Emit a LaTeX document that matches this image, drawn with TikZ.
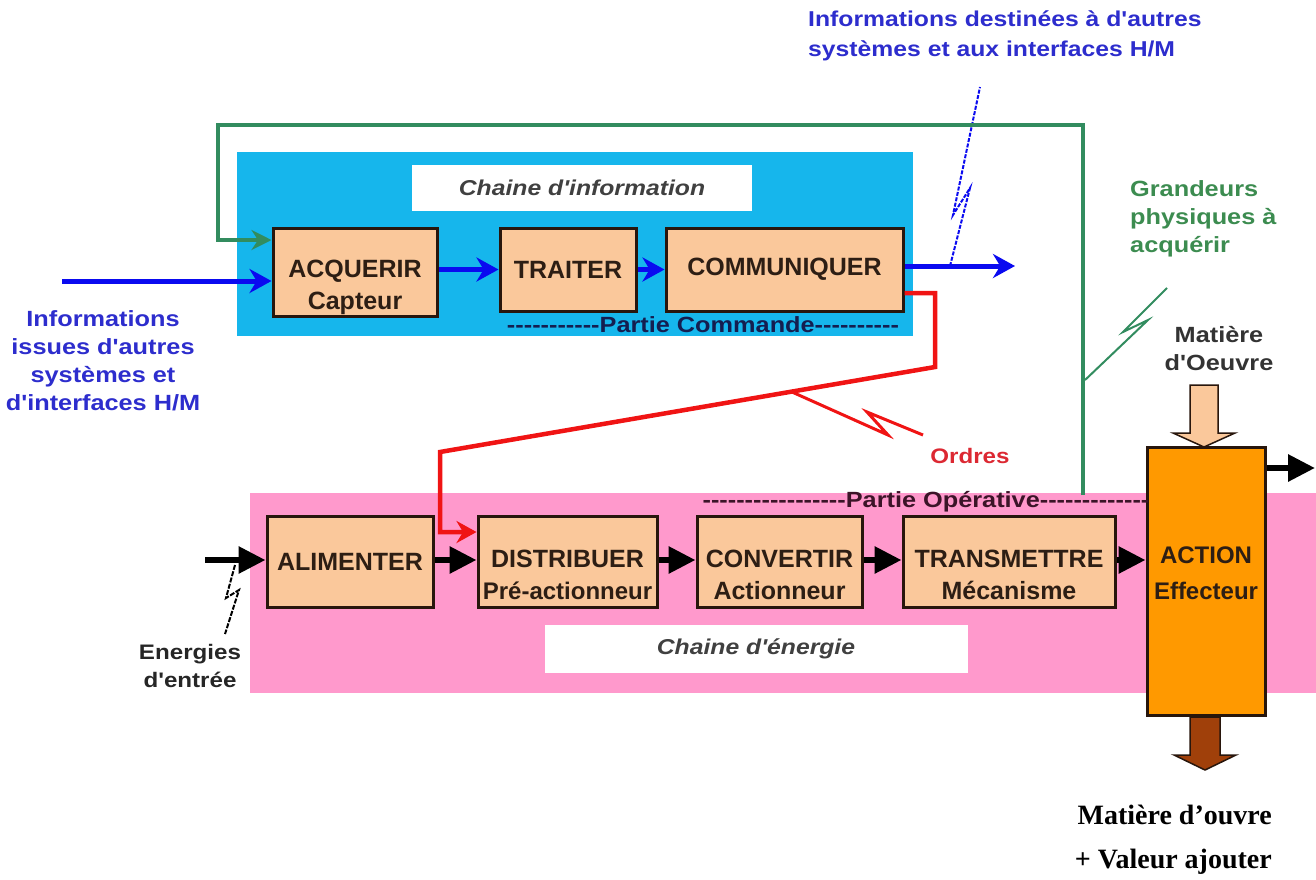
\documentclass[tikz,border=0pt]{standalone}
\usepackage{fontspec}
\setmainfont{Liberation Sans}
\newfontfamily\widesans{Liberation Sans}[FakeStretch=1.15]
\newfontfamily\timesfont{Liberation Serif}
\usetikzlibrary{arrows.meta}
\definecolor{cyanbg}{RGB}{22,182,236}
\definecolor{pinkbg}{RGB}{255,153,204}
\definecolor{peach}{RGB}{250,200,155}
\definecolor{orangebox}{RGB}{255,153,0}
\definecolor{brownar}{RGB}{160,64,10}
\definecolor{boxline}{RGB}{40,22,12}
\definecolor{blueline}{RGB}{10,10,240}
\definecolor{bluetxt}{RGB}{45,45,205}
\definecolor{greenline}{RGB}{50,140,95}
\definecolor{greentxt}{RGB}{60,140,80}
\definecolor{redline}{RGB}{240,20,20}
\definecolor{redtxt}{RGB}{220,40,50}
\definecolor{navytxt}{RGB}{20,30,80}
\definecolor{maroontxt}{RGB}{60,20,40}
\definecolor{darktxt}{RGB}{45,30,20}
\newcommand{\twolines}[3]{\rule{0pt}{#3}#1\\#2}
\newcommand{\dashes}[1]{\ifnum#1>0 -\kern0pt\expandafter\dashes\expandafter{\the\numexpr#1-1\relax}\fi}
\begin{document}
\begin{tikzpicture}[x=1pt,y=-1pt,
  box/.style={draw=boxline,line width=3pt,fill=peach,align=center,inner sep=0pt,
    text=darktxt,font=\bfseries\fontsize{25}{32}\selectfont},
  lbl/.style={fill=white,inner sep=0pt,font=\widesans\bfseries\itshape\fontsize{21.5}{24}\selectfont,text=black!75},
  bluearrow/.style={draw=blueline,line width=5pt,-{Stealth[length=22pt,width=24pt]}},
  blackarrow/.style={draw=black,line width=6pt,-{Triangle[length=27pt,width=26pt]}},
  bolt/.style={line width=2pt},
  txt/.style={font=\widesans\bfseries\fontsize{22}{28}\selectfont,inner sep=0pt}]
\useasboundingbox (0,0) rectangle (1316,879);

% backgrounds
\fill[cyanbg] (237,152) rectangle (913,336);
\fill[pinkbg] (250,493) rectangle (1316,693);
\node[lbl,minimum width=340pt,minimum height=46pt] (lblinfo) at (582,188) {Chaine d'information};
\node[lbl,minimum width=423pt,minimum height=48pt] (lblener) at (756,649) {Chaine d'énergie};

% information chain
\node[box,minimum width=164pt,minimum height=88pt] (acq) at (355,272) {\twolines{ACQUERIR}{Capteur}{48pt}};
\node[box,minimum width=136pt,minimum height=83pt] (trait) at (568,269.5) {TRAITER};
\node[box,minimum width=237pt,minimum height=83pt] (comm) at (784.5,269.5) {COMMUNIQUER};
\node[txt,text=navytxt] (pcom) at (703,325) {\dashes{11}Partie Commande\dashes{10}};

% energy chain
\node[box,minimum width=166pt,minimum height=91pt] (alim) at (350,561.5) {ALIMENTER};
\node[box,minimum width=179pt,minimum height=91pt] (dist) at (567.5,561.5) {\twolines{DISTRIBUER}{\fontsize{24}{32}\selectfont Pré-actionneur}{45pt}};
\node[box,minimum width=165pt,minimum height=91pt] (conv) at (779.5,561.5) {\twolines{CONVERTIR}{Actionneur}{45pt}};
\node[box,minimum width=212pt,minimum height=91pt] (trans) at (1009,561.5) {\twolines{TRANSMETTRE}{Mécanisme}{45pt}};
\node[box,fill=orangebox,minimum width=118pt,minimum height=268pt,font=\bfseries\fontsize{24}{36}\selectfont] (action) at (1206,581) {ACTION\\Effecteur\rule[-16pt]{0pt}{0pt}};
\node[txt,text=maroontxt] (pop) at (926,502) {\dashes{17}Partie Opérative\dashes{13}};

% blue arrows
\coordinate (bin) at (62,281);
\coordinate (bout) at (1015,266);
\draw[bluearrow] (bin) -- (acq.west |- bin);
\draw[bluearrow] (acq.east |- trait) -- (trait.west);
\draw[bluearrow] (trait.east) -- (comm.west);
\draw[bluearrow] (comm.east |- bout) -- (bout);

% blue dashed lightning
\draw[blueline,bolt,dash pattern=on 4pt off 1.5pt] (950,266) -- (970,188) -- (953,215) -- (980,87);

% green loop
\coordinate (g0) at (1083,495);
\coordinate (g1) at (1083,125);
\coordinate (g2) at (218,125);
\coordinate (g3) at (218,240);
\draw[greenline,line width=4pt,-{Stealth[length=20pt,width=20pt]}] (g0) -- (g1) -- (g2) -- (g3) -- (acq.west |- g3);
\draw[greenline,bolt] (1085,380) -- (1148,320) -- (1123,332) -- (1167,288);

% red orders
\coordinate (r1) at (935,293);
\coordinate (r2) at (935,367);
\coordinate (r3) at (440,452);
\coordinate (r4) at (440,532);
\draw[redline,line width=4.5pt,line join=miter,-{Stealth[length=20pt,width=22pt]}] (comm.east |- r1) -- (r1) -- (r2) -- (r3) -- (r4) -- (dist.west |- r4);
\draw[redline,line width=3pt] (792,392) -- (888,435) -- (867,412) -- (923,435);

% black arrows
\coordinate (ein) at (205,560);
\coordinate (aout) at (1315,468);
\draw[blackarrow] (ein) -- (alim.west |- ein);
\draw[blackarrow] (alim.east |- ein) -- (dist.west |- ein);
\draw[blackarrow] (dist.east |- ein) -- (conv.west |- ein);
\draw[blackarrow] (conv.east |- ein) -- (trans.west |- ein);
\draw[blackarrow] (trans.east |- ein) -- (action.west |- ein);
\draw[blackarrow] (action.east |- aout) -- (aout);
\draw[black,bolt,dash pattern=on 5pt off 1.5pt] (235,565) -- (226,598) -- (239,590) -- (225,634);

% material arrows
\draw[boxline,line width=1.5pt,fill=peach] (1190,385) -- (1218,385) -- (1218,433) -- (1235,433) -- (1204,447) -- (1173,433) -- (1190,433) -- cycle;
\draw[boxline,line width=1.5pt,fill=brownar] (1190,717) -- (1220,717) -- (1220,755) -- (1236,755) -- (1205,770) -- (1174,755) -- (1190,755) -- cycle;

% texts
\node[txt,text=bluetxt,align=left,anchor=west,font=\widesans\bfseries\fontsize{21.5}{30}\selectfont] (tinfodest) at (808,36) {Informations destinées à d'autres\\systèmes et aux interfaces H/M};
\node[txt,text=bluetxt,align=center] (tinfoiss) at (103,361) {Informations\\issues d'autres\\systèmes et\\d'interfaces H/M};
\node[txt,text=greentxt,align=left,anchor=west] (tgrand) at (1130,219) {Grandeurs\\physiques à\\acquérir};
\node[txt,text=redtxt,font=\widesans\bfseries\fontsize{21}{24}\selectfont] (tord) at (970,456) {Ordres};
\node[txt,text=black!80,align=center] (tmat) at (1219,349) {Matière\\d'Oeuvre};
\node[txt,text=black!85,align=center,font=\widesans\bfseries\fontsize{21}{28}\selectfont] (tener) at (190,666) {Energies\\d'entrée};
\node[txt,anchor=east,font=\timesfont\bfseries\fontsize{28}{32}\selectfont] (tmo) at (1272,815) {Matière d’ouvre};
\node[txt,anchor=east,font=\timesfont\bfseries\fontsize{28}{32}\selectfont] (tva) at (1272,862) {+ Valeur ajouter};
\end{tikzpicture}
\end{document}
